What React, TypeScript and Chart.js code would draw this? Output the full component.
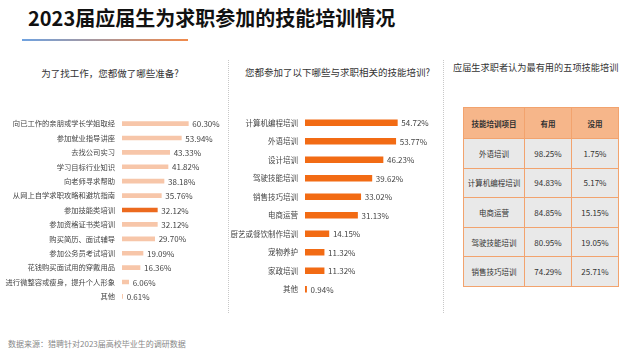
import React, { useEffect, useRef } from 'react';
import { Chart, registerables } from 'chart.js';

Chart.register(...registerables);

const FONT = '"Noto Sans CJK SC", "Noto Sans", sans-serif';

const prepCategories = [
  '向已工作的亲朋或学长学姐取经',
  '参加就业指导讲座',
  '去找公司实习',
  '学习目标行业知识',
  '向老师寻求帮助',
  '从网上自学求职攻略和避坑指南',
  '参加技能类培训',
  '参加资格证书类培训',
  '购买简历、面试辅导',
  '参加公务员考试培训',
  '花钱购买面试用的穿戴用品',
  '进行微整容或瘦身，提升个人形象',
  '其他',
];
const prepValues = [60.3, 53.94, 43.33, 41.82, 38.18, 35.76, 32.12, 32.12, 29.7, 19.09, 16.36, 6.06, 0.61];
const prepHighlight = '参加技能类培训';

const trainCategories = [
  '计算机编程培训',
  '外语培训',
  '设计培训',
  '驾驶技能培训',
  '销售技巧培训',
  '电商运营',
  '厨艺或餐饮制作培训',
  '宠物养护',
  '家政培训',
  '其他',
];
const trainValues = [54.72, 53.77, 46.23, 39.62, 33.02, 31.13, 14.15, 11.32, 11.32, 0.94];

const tableHeaders = ['技能培训项目', '有用', '没用'];
const tableItems = ['外语培训', '计算机编程培训', '电商运营', '驾驶技能培训', '销售技巧培训'];
const usefulValues = [98.25, 94.83, 84.85, 80.95, 74.29];
const uselessValues = [1.75, 5.17, 15.15, 19.05, 25.71];

const valueLabels = {
  id: 'valueLabels',
  afterDatasetsDraw(chart: any) {
    const ctx = chart.ctx;
    const meta = chart.getDatasetMeta(0);
    ctx.save();
    ctx.font = `8px ${FONT}`;
    ctx.fillStyle = '#444';
    ctx.textBaseline = 'middle';
    ctx.textAlign = 'left';
    meta.data.forEach((bar: any, i: number) => {
      const v = chart.data.datasets[0].data[i] as number;
      ctx.fillText(v.toFixed(2) + '%', bar.x + 4, bar.y + 0.5);
    });
    ctx.restore();
  },
};

function BarChart(props: {
  labels: string[];
  values: number[];
  colors: string[];
  axisWidth: number;
  max: number;
  width: number;
  height: number;
  thickness: number;
  labelSize: number;
}) {
  const ref = useRef<HTMLCanvasElement>(null);
  useEffect(() => {
    const chart = new Chart(ref.current!, {
      type: 'bar',
      data: {
        labels: props.labels,
        datasets: [
          {
            data: props.values,
            backgroundColor: props.colors,
            barThickness: props.thickness,
            borderWidth: 0,
          },
        ],
      },
      options: {
        indexAxis: 'y',
        animation: false,
        responsive: false,
        maintainAspectRatio: false,
        layout: { padding: 0 },
        plugins: { legend: { display: false }, tooltip: { enabled: false } },
        scales: {
          x: { display: false, min: 0, max: props.max },
          y: {
            grid: { display: false, drawTicks: false },
            border: { display: false },
            ticks: { padding: 7, color: '#444', font: { family: FONT, size: props.labelSize }, autoSkip: false },
            afterFit(scale: any) {
              scale.width = props.axisWidth;
            },
          },
        },
      },
      plugins: [valueLabels],
    });
    return () => chart.destroy();
  }, []);
  return <canvas ref={ref} width={props.width} height={props.height} style={{ width: props.width, height: props.height }} />;
}

export default function App() {
  const abs = (s: React.CSSProperties): React.CSSProperties => ({ position: 'absolute', ...s });
  const cellBorder = '1px solid #F2A36E';
  return (
    <div style={{ position: 'fixed', left: 0, top: 0, width: 630, height: 356, background: '#fff', fontFamily: FONT, overflow: 'hidden' }}>
      <div style={abs({ left: 28, top: 6, fontSize: 20, lineHeight: '24px', fontWeight: 700, color: '#111', whiteSpace: 'nowrap' })}>
        2023届应届生为求职参加的技能培训情况
      </div>
      <div style={abs({ left: 22, top: 39, width: 166, height: 2, background: 'linear-gradient(90deg, #6FA2E0, #F08A4B)' })} />

      <div style={abs({ left: 10, width: 200, top: 66, fontSize: 9.5, lineHeight: '14px', color: '#333', textAlign: 'center', whiteSpace: 'nowrap' })}>
        为了找工作，您都做了哪些准备?
      </div>
      <div style={abs({ left: 245, top: 65, fontSize: 9.5, lineHeight: '14px', color: '#333', whiteSpace: 'nowrap' })}>
        您都参加了以下哪些与求职相关的技能培训?
      </div>
      <div style={abs({ left: 453, top: 60, fontSize: 9.2, lineHeight: '14px', color: '#333', whiteSpace: 'nowrap' })}>
        应届生求职者认为最有用的五项技能培训
      </div>

      <div style={abs({ left: 228, top: 60, height: 253, borderLeft: '1px dotted #C8C8C8' })} />
      <div style={abs({ left: 443, top: 60, height: 253, borderLeft: '1px dotted #C8C8C8' })} />

      <div style={abs({ left: 0, top: 105 })}>
        <BarChart
          labels={prepCategories}
          values={prepValues}
          colors={prepCategories.map((c) => (c === prepHighlight ? '#EC6A1E' : '#F7C6A9'))}
          axisWidth={122}
          max={90}
          width={221}
          height={210}
          thickness={4}
          labelSize={7.3}
        />
      </div>
      <div style={abs({ left: 230, top: 102 })}>
        <BarChart
          labels={trainCategories}
          values={trainValues}
          colors={trainCategories.map(() => '#F26B14')}
          axisWidth={75}
          max={80}
          width={210}
          height={208}
          thickness={6}
          labelSize={7.5}
        />
      </div>

      <table
        style={abs({
          left: 463,
          top: 107,
          width: 155,
          borderCollapse: 'collapse',
          tableLayout: 'fixed',
          fontSize: 8,
          color: '#333',
          textAlign: 'center',
        })}
      >
        <colgroup>
          <col style={{ width: 61 }} />
          <col style={{ width: 47 }} />
          <col style={{ width: 47 }} />
        </colgroup>
        <thead>
          <tr style={{ height: 31 }}>
            {tableHeaders.map((h) => (
              <th key={h} style={{ border: cellBorder, background: '#F6B68A', fontSize: 7.5, fontWeight: 700, color: '#333', padding: 0 }}>
                {h}
              </th>
            ))}
          </tr>
        </thead>
        <tbody>
          {tableItems.map((item, i) => (
            <tr key={item} style={{ height: 29.6 }}>
              <td style={{ border: cellBorder, background: '#E9E9E9', fontSize: 7.5, padding: 0 }}>{item}</td>
              <td style={{ border: cellBorder, background: '#E9E9E9', padding: 0 }}>{usefulValues[i].toFixed(2)}%</td>
              <td style={{ border: cellBorder, background: '#E9E9E9', padding: 0 }}>{uselessValues[i].toFixed(2)}%</td>
            </tr>
          ))}
        </tbody>
      </table>

      <div style={abs({ left: 8, top: 338, fontSize: 8, lineHeight: '12px', color: '#888', whiteSpace: 'nowrap' })}>
        数据来源：猎聘针对2023届高校毕业生的调研数据
      </div>
    </div>
  );
}
